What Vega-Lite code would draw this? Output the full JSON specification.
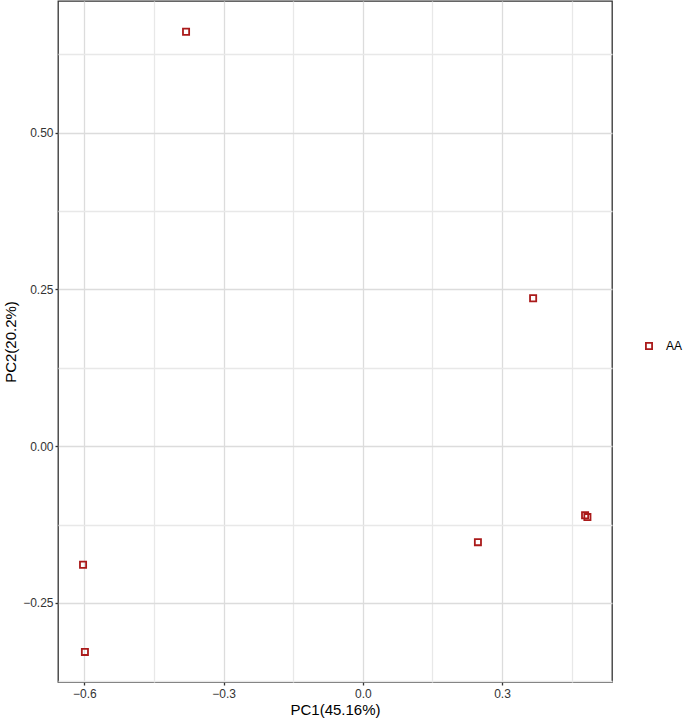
{
  "$schema": "https://vega.github.io/schema/vega-lite/v6.json",
  "width": 554,
  "height": 681,
  "autosize": {"type": "none"},
  "padding": {"left": 58, "top": 1, "right": 73, "bottom": 40},
  "background": "white",
  "config": {
    "font": "Liberation Sans",
    "view": {"stroke": "#333333", "strokeWidth": 1.3},
    "axis": {
      "gridWidth": 1.3,
      "domain": false,
      "labelFont": "Liberation Sans",
      "labelFontSize": 12,
      "labelColor": "#333333",
      "titleFont": "Liberation Sans",
      "titleFontSize": 15,
      "titleFontWeight": "normal",
      "titleColor": "#000000",
      "tickColor": "#333333",
      "tickSize": 3,
      "tickWidth": 1.3
    }
  },
  "data": {
    "values": [
      {"PC1": -0.381, "PC2": 0.661, "group": "AA"},
      {"PC1": 0.367, "PC2": 0.236, "group": "AA"},
      {"PC1": -0.603, "PC2": -0.189, "group": "AA"},
      {"PC1": -0.599, "PC2": -0.328, "group": "AA"},
      {"PC1": 0.248, "PC2": -0.153, "group": "AA"},
      {"PC1": 0.479, "PC2": -0.110, "group": "AA"},
      {"PC1": 0.484, "PC2": -0.113, "group": "AA"}
    ]
  },
  "mark": {"type": "point", "shape": "square", "filled": false, "size": 38, "strokeWidth": 1.8, "opacity": 1},
  "encoding": {
    "x": {
      "field": "PC1",
      "type": "quantitative",
      "title": "PC1(45.16%)",
      "scale": {"domain": [-0.657, 0.537], "nice": false, "zero": false},
      "axis": {
        "values": [-0.6, -0.45, -0.3, -0.15, 0, 0.15, 0.3, 0.45],
        "labelExpr": "abs(round(datum.value*100) % 30) == 0 ? replace(format(datum.value, '.1f'), '-', '\u2212') : ''",
        "tickOpacity": {"condition": {"test": "abs(round(datum.value*100) % 30) == 0", "value": 1}, "value": 0},
        "gridColor": {"condition": {"test": "abs(round(datum.value*100) % 30) == 0", "value": "#dcdcdc"}, "value": "#e8e8e8"},
        "labelPadding": 3,
        "titlePadding": 3
      }
    },
    "y": {
      "field": "PC2",
      "type": "quantitative",
      "title": "PC2(20.2%)",
      "scale": {"domain": [-0.376, 0.71], "nice": false, "zero": false},
      "axis": {
        "values": [-0.375, -0.25, -0.125, 0, 0.125, 0.25, 0.375, 0.5, 0.625],
        "labelExpr": "abs(round(datum.value*1000) % 250) == 0 ? replace(format(datum.value, '.2f'), '-', '\u2212') : ''",
        "tickOpacity": {"condition": {"test": "abs(round(datum.value*1000) % 250) == 0", "value": 1}, "value": 0},
        "gridColor": {"condition": {"test": "abs(round(datum.value*1000) % 250) == 0", "value": "#dcdcdc"}, "value": "#e8e8e8"},
        "labelPadding": 2,
        "titlePadding": 4
      }
    },
    "color": {
      "field": "group",
      "type": "nominal",
      "scale": {"range": ["#AA1A1A"]},
      "legend": {
        "title": null,
        "orient": "none",
        "legendX": 585,
        "legendY": 339,
        "labelFont": "Liberation Sans",
        "labelFontSize": 12,
        "labelColor": "#000000",
        "symbolStrokeWidth": 1.8,
        "symbolSize": 38,
        "labelOffset": 11
      }
    },
    "shape": {"value": "square"}
  }
}
